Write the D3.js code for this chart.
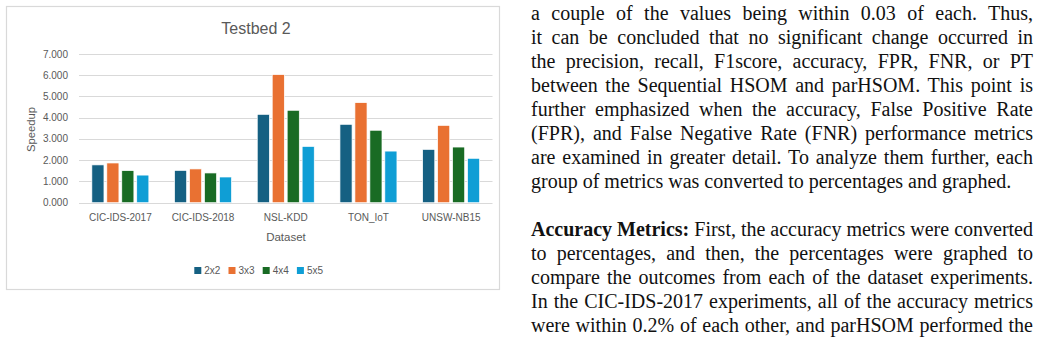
<!DOCTYPE html>
<html>
<head>
<meta charset="utf-8">
<script src="https://cdn.jsdelivr.net/npm/d3@7"></script>
<style>
  body { margin: 0; background: #fff; }
  svg { display: block; }
</style>
</head>
<body>
<div id="content"></div>
<script>
// chart data
const datasets = ["CIC-IDS-2017", "CIC-IDS-2018", "NSL-KDD", "TON_IoT", "UNSW-NB15"];
const gridSizes = ["2x2", "3x3", "4x4", "5x5"];
const speedup2x2 = [1.78, 1.52, 4.16, 3.69, 2.51];
const speedup3x3 = [1.87, 1.59, 6.03, 4.71, 3.64];
const speedup4x4 = [1.51, 1.40, 4.35, 3.41, 2.62];
const speedup5x5 = [1.30, 1.21, 2.65, 2.43, 2.09];
const yTicks = [0, 1, 2, 3, 4, 5, 6, 7];
const barColors = ["#156082", "#E97132", "#196B24", "#0F9ED5"];

// the paper text beside the chart
const textLines = [
  ["a couple of the values being within 0.03 of each. Thus,"],
  ["it can be concluded that no significant change occurred in"],
  ["the precision, recall, F1score, accuracy, FPR, FNR, or PT"],
  ["between the Sequential HSOM and parHSOM. This point is"],
  ["further emphasized when the accuracy, False Positive Rate"],
  ["(FPR), and False Negative Rate (FNR) performance metrics"],
  ["are examined in greater detail. To analyze them further, each"],
  ["group of metrics was converted to percentages and graphed.", "last"],
  null,
  ["First, the accuracy metrics were converted", "Accuracy Metrics:"],
  ["to percentages, and then, the percentages were graphed to"],
  ["compare the outcomes from each of the dataset experiments."],
  ["In the CIC-IDS-2017 experiments, all of the accuracy metrics"],
  ["were within 0.2% of each other, and parHSOM performed the"]
];

const series = [speedup2x2, speedup3x3, speedup4x4, speedup5x5];
const rows = datasets.map((d, i) => ({
  key: d,
  values: gridSizes.map((g, j) => ({ key: g, value: series[j][i], color: barColors[j] }))
}));

const svg = d3.select("#content").append("svg")
  .attr("width", 1039)
  .attr("height", 340);

// chart frame
svg.append("rect")
  .attr("x", 6.5).attr("y", 6.5)
  .attr("width", 493).attr("height", 283)
  .attr("fill", "#fff")
  .attr("stroke", "#d9d9d9")
  .attr("stroke-width", 1.2);

const sansFont = "'Liberation Sans', Arial, sans-serif";
const grey = "#595959";

const x0 = d3.scaleBand().domain(datasets).range([79, 492.5]);
const x1 = d3.scaleBand().domain(gridSizes).range([12.85, 69.85]).paddingInner(0.19);
const y = d3.scaleLinear().domain([0, 7]).range([202.7, 54]);

svg.append("text")
  .attr("x", 256).attr("y", 34)
  .attr("text-anchor", "middle")
  .style("font-family", sansFont)
  .style("font-size", "16px")
  .style("fill", grey)
  .text("Testbed 2");

// gridlines + labels
const grid = svg.append("g");
grid.selectAll("line").data(yTicks).enter().append("line")
  .attr("x1", 79).attr("x2", 492.5)
  .attr("y1", d => Math.round(y(d)) + 0.5)
  .attr("y2", d => Math.round(y(d)) + 0.5)
  .attr("stroke", "#d9d9d9")
  .attr("stroke-width", 1);

grid.selectAll("text").data(yTicks).enter().append("text")
  .attr("x", 68).attr("y", d => y(d))
  .attr("dy", "0.35em")
  .attr("text-anchor", "end")
  .style("font-family", sansFont)
  .style("font-size", "10px")
  .style("fill", grey)
  .text(d => d3.format(".3f")(d));

const groups = svg.selectAll("g.grp").data(rows).enter().append("g")
  .attr("class", "grp")
  .attr("transform", d => `translate(${x0(d.key)},0)`);

groups.selectAll("rect").data(d => d.values).enter().append("rect")
  .attr("x", d => x1(d.key))
  .attr("y", d => y(d.value))
  .attr("width", x1.bandwidth())
  .attr("height", d => y(0) - y(d.value))
  .attr("fill", d => d.color)
  .attr("stroke", "#fff")
  .attr("stroke-width", 0.7);

groups.append("text")
  .attr("x", x0.bandwidth() / 2)
  .attr("y", 221)
  .attr("text-anchor", "middle")
  .style("font-family", sansFont)
  .style("font-size", "10px")
  .style("fill", grey)
  .text(d => d.key);

svg.append("text")
  .attr("x", 286).attr("y", 241)
  .attr("text-anchor", "middle")
  .style("font-family", sansFont)
  .style("font-size", "11.5px")
  .style("fill", grey)
  .text("Dataset");

svg.append("text")
  .attr("transform", "translate(35,129.5) rotate(-90)")
  .attr("text-anchor", "middle")
  .style("font-family", sansFont)
  .style("font-size", "11.3px")
  .style("fill", grey)
  .text("Speedup");

// legend
const legend = svg.selectAll("g.leg").data(gridSizes).enter().append("g")
  .attr("class", "leg")
  .attr("transform", (d, i) => `translate(${194.3 + i * 34.2},267)`);
legend.append("rect")
  .attr("width", 7).attr("height", 7)
  .attr("fill", (d, i) => barColors[i]);
legend.append("text")
  .attr("x", 10).attr("y", 7.3)
  .style("font-family", sansFont)
  .style("font-size", "10px")
  .style("fill", grey)
  .text(d => d);

// right-hand column of paper text, justified line by line
const colLeft = 531, colWidth = 502;
const para = svg.append("g")
  .style("font-family", "'Liberation Serif', 'Times New Roman', serif")
  .style("font-size", "20px")
  .style("fill", "#111");

textLines.forEach((line, i) => {
  if (!line) return;
  const t = para.append("text")
    .attr("x", colLeft)
    .attr("y", 19.5 + i * 24)
    .attr("xml:space", "preserve");
  let words;
  if (line[1] && line[1] !== "last") {
    t.append("tspan").style("font-weight", "bold").text(line[1]);
    t.append("tspan").text(" " + line[0]);
    words = (line[1] + " " + line[0]).split(" ").length;
  } else {
    t.text(line[0]);
    words = line[0].split(" ").length;
  }
  if (line[1] !== "last") {
    const w = t.node().getComputedTextLength();
    t.attr("word-spacing", (colWidth - w) / (words - 1));
  }
});
</script>
</body>
</html>
